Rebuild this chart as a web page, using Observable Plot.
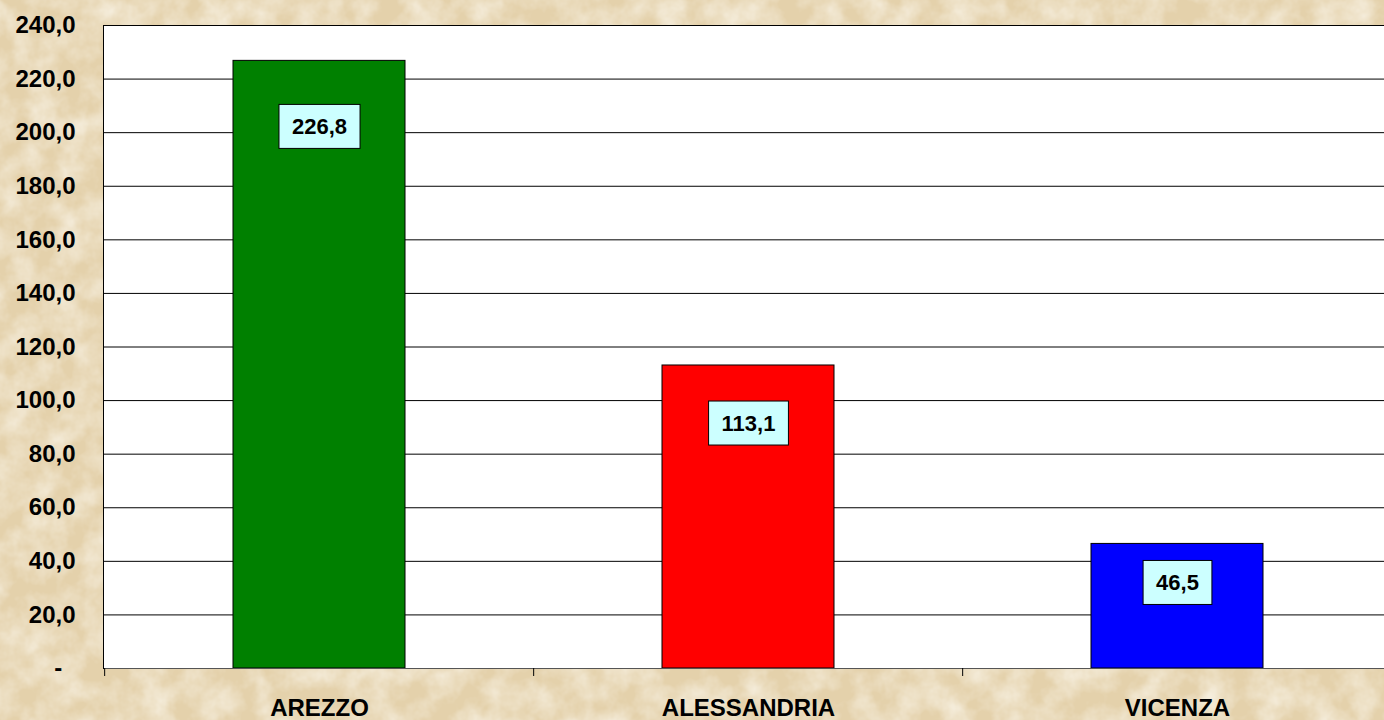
<!DOCTYPE html>
<html>
<head>
<meta charset="utf-8">
<script src="https://cdn.jsdelivr.net/npm/d3@7"></script>
<script src="https://cdn.jsdelivr.net/npm/@observablehq/plot@0.6"></script>
<style>
  html, body { margin: 0; padding: 0; width: 1384px; height: 720px; overflow: hidden; }
  body { background: #e9d8b4; position: relative; }
  #bg { position: absolute; left: 0; top: 0; }
  #chart { position: absolute; left: 0; top: 0; width: 1392px; }
  #chart svg { background: transparent !important; max-width: none !important; }
</style>
</head>
<body>
<svg id="bg" width="1384" height="720">
  <filter id="parch" x="0" y="0" width="100%" height="100%">
    <feTurbulence type="fractalNoise" baseFrequency="0.035" numOctaves="4" seed="7" result="n"/>
    <feColorMatrix type="matrix" values="0 0 0 0 0.94  0 0 0 0 0.89  0 0 0 0 0.78  0 0 0 -1.4 0.95" />
  </filter>
  <rect width="1384" height="720" fill="#e4d1ab"/>
  <rect width="1384" height="720" filter="url(#parch)"/>
</svg>
<div id="chart"></div>
<script>
const categories = ["AREZZO", "ALESSANDRIA", "VICENZA"];
const values = [226.8, 113.1, 46.5];
const colors = ["#008000", "#ff0000", "#0000ff"];
const yTicks = [0, 20, 40, 60, 80, 100, 120, 140, 160, 180, 200, 220, 240];

const data = categories.map((c, i) => ({category: c, value: values[i], color: colors[i]}));
const fmt = v => v === 0 ? "-\u00a0\u00a0" : v.toFixed(1).replace(".", ",");

const W = 1392, H = 720, mL = 103, mR = 0, mT = 25, mB = 52;
const step = (W - mL - mR) / categories.length;
const labelDy = [66, 58, 39];
const font = "'Liberation Sans', Arial, sans-serif";

const marks = [
  Plot.frame({fill: "white", stroke: null}),
  Plot.gridY(yTicks, {stroke: "black", strokeOpacity: 1, strokeWidth: 1}),
  Plot.barY(data, {x: "category", y: "value", fill: "color", stroke: "black", strokeWidth: 1}),
  Plot.ruleY([0], {stroke: "#555"}),
  Plot.frame({anchor: "left", stroke: "black"}),
  Plot.axisY(yTicks, {tickSize: 8, tickPadding: 20, tickFormat: fmt, fontSize: 24, fontWeight: "bold", fill: "black", stroke: null, label: null}),
  Plot.axisX({tickSize: 8, text: null, dx: -step / 2, label: null, stroke: "black"}),
  Plot.axisX({tickSize: 0, tickPadding: 30, fontSize: 24, fontWeight: "bold", label: null})
];
data.forEach((d, i) => {
  marks.push(Plot.text([d], {x: "category", y: "value", text: v => v.value.toFixed(1).replace(".", ","),
    dy: labelDy[i], lineAnchor: "middle", fontSize: 22, fontWeight: "bold", fill: "black", className: "vlabel"}));
});

const chart = Plot.plot({
  width: W, height: H,
  marginLeft: mL, marginRight: mR, marginTop: mT, marginBottom: mB,
  style: {fontFamily: font, background: "transparent", overflow: "visible"},
  x: {domain: categories, paddingInner: 0.6, paddingOuter: 0.3, label: null},
  y: {domain: [0, 240], label: null},
  marks
});
document.getElementById("chart").appendChild(chart);

// light-cyan boxes behind value labels
d3.select(chart).selectAll("g.vlabel text").each(function() {
  const b = this.getBBox();
  const cy = b.y + b.height / 2;
  const g = this.parentNode;
  const t = this.getAttribute("transform");
  const r = d3.select(g).insert("rect", () => this)
    .attr("x", b.x - 13).attr("y", cy - 22)
    .attr("width", b.width + 26).attr("height", 44)
    .attr("fill", "#ccffff").attr("stroke", "black").attr("stroke-width", 1);
  if (t) r.attr("transform", t);
});
</script>
</body>
</html>
